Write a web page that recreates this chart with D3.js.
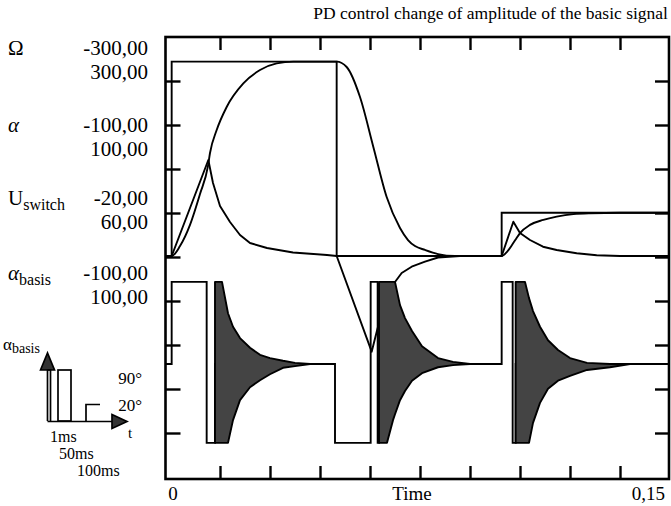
<!DOCTYPE html>
<html>
<head>
<meta charset="utf-8">
<script src="https://cdn.jsdelivr.net/npm/d3@7"></script>
<style>
  body { margin: 0; background: #fff; }
  svg { display: block; }
  text { font-family: "Liberation Serif", "Times New Roman", serif; fill: #000; }
</style>
</head>
<body>
<svg id="chart" width="671" height="506"></svg>
<script>
// ---- recorded channels (time in s) ----
// angular velocity Ω
const omegaT = [-0.0015, 0.0005, 0.0115, 0.0129, 0.015, 0.018, 0.021, 0.024, 0.0291, 0.0369, 0.0471, 0.05,
                0.0605, 0.0623, 0.0645, 0.0675, 0.0695, 0.0725, 0.0765, 0.0804, 0.087, 0.0995,
                0.103, 0.105, 0.108, 0.1119, 0.116, 0.122, 0.128, 0.135, 0.15];
const omegaV = [0, 0, 133.3, 101.4, 69.4, 47.2, 29.2, 18.1, 11.1, 4.9, 1.4, 0,
                -132.9, -100, -68.1, -36.1, -23.6, -14.9, -7.9, -2.1, 0, 0,
                47.6, 31.9, 22.2, 12.9, 8.3, 3.8, 1.0, 0, 0];

// shaft angle α
const alphaT = [-0.0015, 0.0005, 0.003, 0.006, 0.009, 0.0114, 0.012, 0.014, 0.017, 0.022, 0.027, 0.032, 0.037,
                0.05, 0.053, 0.057, 0.061, 0.065, 0.069, 0.0714, 0.0735, 0.0765, 0.0804, 0.0855,
                0.0995, 0.1011, 0.1026, 0.1038, 0.105, 0.108, 0.112, 0.116, 0.121, 0.126, 0.135, 0.15];
const alphaV = [0, 0, 4.6, 14.4, 28.7, 41.7, 47.7, 58.3, 69.0, 79.9, 86.1, 89.2, 90,
                90, 87.5, 73.6, 50.5, 27.3, 13.0, 7.4, 4.6, 2.8, 0.9, 0,
                0, 1.9, 5.1, 7.9, 10.6, 14.4, 16.7, 18.2, 19.4, 19.8, 20, 20];

// reference angle α_basis (step signal)
const basisT = [-0.0015, 0.0005, 0.05, 0.0995, 0.15];
const basisV = [0, 90, 0, 20, 20];

// switching voltage U_switch, held levels between switching bursts
const uT = [-0.0015, 0.0005, 0.011, 0.0135, 0.0495, 0.0602, 0.0623, 0.0627, 0.0995, 0.1028, 0.1037, 0.15];
const uV = [0, 15.2, -14.6, 0, -14.6, 15.2, -14.6, 0, 15.2, -14.6, 0, 0];

// switching bursts of U_switch: upper / lower envelope
const burst1T  = [0.0135, 0.0156, 0.0174, 0.0189, 0.021, 0.024, 0.027, 0.030, 0.0339, 0.0375, 0.042];
const burst1Hi = [15.2, 15.2, 9.4, 6.9, 4.8, 3.0, 1.7, 1.1, 0.6, 0.2, 0];
const burst1Lo = [-14.6, -14.6, -14.6, -10.4, -6.7, -4.3, -3.0, -1.9, -0.7, -0.4, 0];

const burst2T  = [0.0627, 0.0651, 0.0669, 0.0675, 0.069, 0.0705, 0.0726, 0.0756, 0.0804, 0.0849, 0.09];
const burst2Hi = [15.2, 15.2, 15.2, 15.2, 10.9, 8.5, 6.1, 3.3, 1.1, 0.4, 0];
const burst2Lo = [-14.6, -14.6, -10.4, -9.3, -6.7, -5.0, -3.1, -1.7, -0.6, -0.2, 0];

const burst3T  = [0.1037, 0.1065, 0.1077, 0.1089, 0.111, 0.1134, 0.1164, 0.12, 0.1251, 0.132, 0.138];
const burst3Hi = [15.2, 15.2, 12.2, 9.8, 6.9, 4.4, 2.6, 1.1, 0.2, 0, 0];
const burst3Lo = [-14.6, -14.6, -14.6, -10.9, -7.2, -4.6, -3.1, -2.2, -1.1, -0.6, 0];

// channel names and display ranges
const channelNames  = ["Ω", "α", "U", "α"];
const channelSubs   = ["", "", "switch", "basis"];
const channelRanges = [[-300, 300], [-100, 100], [-20, 60], [-100, 100]];

const timeDomain = [0, 0.15];
const timeTickStep = 0.015;
const divisions = 10;

const titleText = "PD control change of amplitude of the basic signal";
const timeLabel = "Time";

// inset sketch of the reference signal
const insetLevels = ["90°", "20°"];
const insetTimes  = ["1ms", "50ms", "100ms"];

// ---------------------------------------------------------------
const svg = d3.select("#chart");
const locale = d3.formatLocale({decimal: ",", thousands: ".", grouping: [3], currency: ["", ""], minus: "-"});
const fmt2 = locale.format(".2f");
const fmtT = locale.format("~g");

const frame = {left: 165.5, right: 669, top: 37, bottom: 479};

const x = d3.scaleLinear().domain(timeDomain).range([170, 670]);
const div = d3.scaleLinear().domain([0, divisions]).range([477, 37]);
const yScales = channelRanges.map(r => d3.scaleLinear().domain(r).range([472, 40]));
const yOmega = yScales[0], yAlpha = yScales[1], ySwitch = yScales[2], yBasis = yScales[3];

// clip traces to the plotting frame
svg.append("clipPath").attr("id", "plotClip")
  .append("rect")
  .attr("x", frame.left).attr("y", frame.top)
  .attr("width", frame.right - frame.left).attr("height", frame.bottom - frame.top);

const traces = svg.append("g").attr("clip-path", "url(#plotClip)");

function pts(ts, vs) { return ts.map((t, i) => [t, vs[i]]); }

const strokeW = 1.9;

// U_switch held levels
traces.append("path")
  .attr("d", d3.line().curve(d3.curveStepAfter).x(d => x(d[0])).y(d => ySwitch(d[1]))(pts(uT, uV)))
  .attr("fill", "none").attr("stroke", "#000").attr("stroke-width", strokeW);

// reference α_basis
traces.append("path")
  .attr("d", d3.line().curve(d3.curveStepAfter).x(d => x(d[0])).y(d => yBasis(d[1]))(pts(basisT, basisV)))
  .attr("fill", "none").attr("stroke", "#000").attr("stroke-width", strokeW);

// α (smooth response)
traces.append("path")
  .attr("d", d3.line().curve(d3.curveMonotoneX).x(d => x(d[0])).y(d => yAlpha(d[1]))(pts(alphaT, alphaV)))
  .attr("fill", "none").attr("stroke", "#000").attr("stroke-width", strokeW).attr("stroke-linejoin", "round");

// Ω (sharp turning points kept)
traces.append("path")
  .attr("d", d3.line().x(d => x(d[0])).y(d => yOmega(d[1]))(pts(omegaT, omegaV)))
  .attr("fill", "none").attr("stroke", "#000").attr("stroke-width", strokeW).attr("stroke-linejoin", "round");

// switching bursts, filled between envelopes (drawn on top)
[[burst1T, burst1Hi, burst1Lo], [burst2T, burst2Hi, burst2Lo], [burst3T, burst3Hi, burst3Lo]].forEach(([ts, hi, lo]) => {
  const rows = ts.map((t, i) => ({t, hi: hi[i], lo: lo[i]}));
  traces.append("path")
    .attr("d", d3.area().x(d => x(d.t)).y0(d => ySwitch(d.lo)).y1(d => ySwitch(d.hi))(rows))
    .attr("fill", "#444")
    .attr("stroke", "#000")
    .attr("stroke-width", strokeW)
    .attr("stroke-linejoin", "round");
});

// ---- frame and ticks ----
const tickTimes = d3.range(1, Math.round(timeDomain[1] / timeTickStep)).map(k => k * timeTickStep);
const tickDivs = d3.range(1, divisions);
const axisG = svg.append("g");

axisG.append("g").call(d3.axisBottom(x).tickValues(tickTimes).tickSize(13).tickFormat(""))
  .attr("transform", `translate(0,${frame.top})`)
  .call(g => g.select(".domain").remove())
  .call(g => g.selectAll("line").attr("stroke-width", 2.4));
axisG.append("g").call(d3.axisTop(x).tickValues(tickTimes).tickSize(13).tickFormat(""))
  .attr("transform", `translate(0,${frame.bottom})`)
  .call(g => g.select(".domain").remove())
  .call(g => g.selectAll("line").attr("stroke-width", 2.4));
axisG.append("g").call(d3.axisRight(div).tickValues(tickDivs).tickSize(15).tickFormat(""))
  .attr("transform", `translate(${frame.left},0)`)
  .call(g => g.select(".domain").remove())
  .call(g => g.selectAll("line").attr("stroke-width", 2.4));
axisG.append("g").call(d3.axisLeft(div).tickValues(tickDivs).tickSize(14).tickFormat(""))
  .attr("transform", `translate(${frame.right},0)`)
  .call(g => g.select(".domain").remove())
  .call(g => g.selectAll("line").attr("stroke-width", 2.4));

svg.append("rect")
  .attr("x", frame.left).attr("y", frame.top)
  .attr("width", frame.right - frame.left).attr("height", frame.bottom - frame.top)
  .attr("fill", "none").attr("stroke", "#000").attr("stroke-width", 2.6);

// ---- texts ----
svg.append("text").attr("x", 668).attr("y", 19).attr("text-anchor", "end")
  .attr("font-size", 17.5).text(titleText);

const groupY = [48, 124.5, 198, 273];
channelNames.forEach((name, i) => {
  const t = svg.append("text").attr("x", 8).attr("y", groupY[i]).attr("dy", "0.35em").attr("font-size", 21);
  t.append("tspan").attr("font-style", (name === "α") ? "italic" : "normal").text(name);
  if (channelSubs[i]) t.append("tspan").attr("font-size", 16).attr("dy", 5).text(channelSubs[i]);
  channelRanges[i].forEach((v, j) => {
    svg.append("text").attr("x", 148).attr("y", groupY[i] + j * 24).attr("dy", "0.35em")
      .attr("text-anchor", "end").attr("font-size", 21).text(fmt2(v));
  });
});

// time axis labels
svg.append("text").attr("x", x(timeDomain[0]) + 3).attr("y", 500).attr("text-anchor", "middle")
  .attr("font-size", 19).text(fmtT(timeDomain[0]));
svg.append("text").attr("x", 665).attr("y", 500).attr("text-anchor", "end")
  .attr("font-size", 19).text(fmtT(timeDomain[1]));
svg.append("text").attr("x", 412).attr("y", 500).attr("text-anchor", "middle")
  .attr("font-size", 19).text(timeLabel);

// ---- inset: shape of the reference signal ----
const inset = svg.append("g").attr("stroke", "#000").attr("fill", "none").attr("stroke-width", 1.7);
inset.append("path").attr("d", "M47.5,421 V366");
inset.append("path").attr("d", "M40.5,370 L47.5,353 L54.5,370 Z").attr("fill", "#333");
inset.append("path").attr("d", "M47.5,421.5 H113");
inset.append("path").attr("d", "M112,414.5 L127,421.5 L112,428.5 Z").attr("fill", "#333");
inset.append("path").attr("d", "M47.5,370 H50.5 V421");
inset.append("rect").attr("x", 58).attr("y", 370).attr("width", 13).attr("height", 51);
inset.append("path").attr("d", "M86,421 V404.5 H100");

const it = svg.append("text").attr("x", 3).attr("y", 350).attr("font-size", 17);
it.append("tspan").text("α");
it.append("tspan").attr("font-size", 14).attr("dy", 3).text("basis");
svg.append("text").attr("x", 142).attr("y", 384).attr("text-anchor", "end").attr("font-size", 17).text(insetLevels[0]);
svg.append("text").attr("x", 142).attr("y", 411).attr("text-anchor", "end").attr("font-size", 17).text(insetLevels[1]);
svg.append("text").attr("x", 128).attr("y", 438).attr("font-size", 15).text("t");
[[50, 442], [59, 459], [77, 476]].forEach((p, i) => {
  svg.append("text").attr("x", p[0]).attr("y", p[1]).attr("font-size", 16).text(insetTimes[i]);
});
</script>
</body>
</html>
